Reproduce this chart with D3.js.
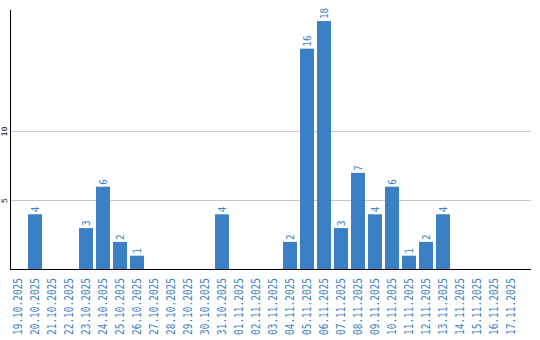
<!DOCTYPE html>
<html><head><meta charset="utf-8">
<script src="https://cdn.jsdelivr.net/npm/d3@7"></script>
<style>body{margin:0;background:#fff}</style>
</head><body>
<svg id="c" width="540" height="340"></svg>
<script>
const categories = ["19.10.2025","20.10.2025","21.10.2025","22.10.2025","23.10.2025","24.10.2025","25.10.2025","26.10.2025","27.10.2025","28.10.2025","29.10.2025","30.10.2025","31.10.2025","01.11.2025","02.11.2025","03.11.2025","04.11.2025","05.11.2025","06.11.2025","07.11.2025","08.11.2025","09.11.2025","10.11.2025","11.11.2025","12.11.2025","13.11.2025","14.11.2025","15.11.2025","16.11.2025","17.11.2025"];
const values = [0,4,0,0,3,6,2,1,0,0,0,0,4,0,0,0,2,16,18,3,7,4,6,1,2,4,0,0,0,0];
const yTicks = [5,10];

const svg = d3.select("#c");
const x = d3.scaleBand().domain(categories).range([9.5,519.5]).paddingInner(0.176).paddingOuter(0.088);
const y = d3.scaleLinear().domain([0,18.8]).range([269.5,10]);
const blue = "#3b7fc4";

// gridlines
svg.append("g").selectAll("line").data(yTicks).join("line")
  .attr("x1",10).attr("x2",531)
  .attr("y1",d=>Math.round(y(d))+0.5).attr("y2",d=>Math.round(y(d))+0.5)
  .attr("stroke","#c8c8c8").attr("stroke-width",1);

// y tick labels
svg.append("g").selectAll("text").data(yTicks).join("text")
  .attr("transform",d=>`translate(7,${y(d)}) rotate(-90)`)
  .attr("text-anchor","middle")
  .attr("font-family","DejaVu Sans Mono").attr("font-size","7.5px").attr("fill","#111")
  .attr("textLength",d=>String(d).length*5).attr("lengthAdjust","spacingAndGlyphs")
  .text(d=>d);

// bars
svg.append("g").selectAll("rect").data(values.map((v,i)=>({c:categories[i],v}))).join("rect")
  .attr("x",d=>x(d.c)).attr("width",x.bandwidth())
  .attr("y",d=>y(d.v)).attr("height",d=>y(0)-y(d.v))
  .attr("fill",blue);

// value labels
svg.append("g").selectAll("text").data(values.map((v,i)=>({c:categories[i],v})).filter(d=>d.v>0)).join("text")
  .attr("transform",d=>`translate(${x(d.c)+x.bandwidth()/2},${y(d.v)-2}) rotate(-90)`)
  .attr("dy","0.36em")
  .attr("text-anchor","start")
  .attr("font-family","DejaVu Sans Mono").attr("font-size","11px").attr("fill",blue)
  .attr("textLength",d=>String(d.v).length*5.6).attr("lengthAdjust","spacingAndGlyphs")
  .text(d=>d.v);

// axes lines
svg.append("line").attr("x1",10.5).attr("x2",10.5).attr("y1",10).attr("y2",270).attr("stroke","#000");
svg.append("line").attr("x1",10).attr("x2",531).attr("y1",269.5).attr("y2",269.5).attr("stroke","#000");

// category labels
svg.append("g").selectAll("text").data(categories).join("text")
  .attr("transform",d=>`translate(${x(d)+x.bandwidth()/2},278) rotate(-90)`)
  .attr("dy","0.36em")
  .attr("text-anchor","end")
  .attr("font-family","DejaVu Sans Mono").attr("font-size","12px").attr("fill",blue)
  .attr("textLength",57).attr("lengthAdjust","spacingAndGlyphs")
  .text(d=>d);
</script>
</body></html>
